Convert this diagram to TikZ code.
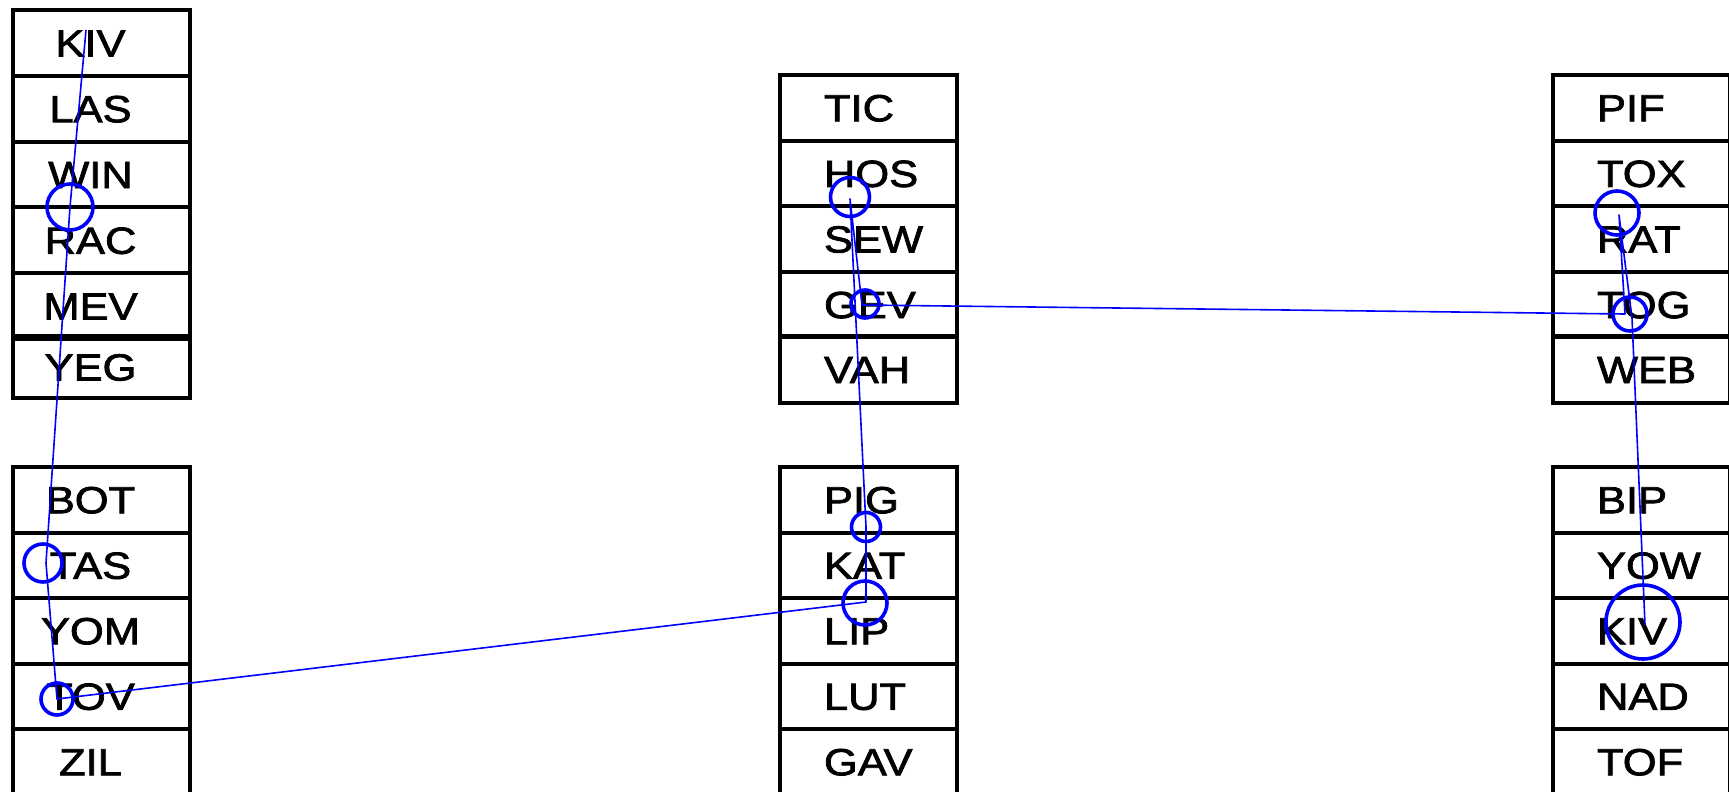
\documentclass[tikz,border=0pt]{standalone}
\usepackage{fontspec}
\setmainfont[FakeStretch=1.15,FakeBold=2]{Liberation Sans}
% left stacks: text centred a little left of the cell centre
\newcommand\insetA[1]{\makebox[88.5pt]{\hspace{-11pt}#1}}
% other stacks: text at a fixed inset from the left edge
\newcommand\insetB[1]{\makebox[88.5pt][l]{\hspace{22pt}#1}}
\begin{document}
\begin{tikzpicture}[x=0.5pt,y=-0.5pt,
  cell/.style={draw=black, line width=2pt, rectangle, inner sep=0pt, outer sep=0pt,
    minimum width=88.5pt, text height=13.5pt, text depth=0pt, anchor=north west,
    font=\fontsize{18.9}{20}\selectfont},
  rowA/.style={cell, minimum height=32.9pt},
  rowB/.style={cell, minimum height=32.75pt},
  rowC/.style={cell, minimum height=32.8pt},
  link/.style={draw=blue, line width=0.8pt, line join=round},
  ring/.style={circle, draw=blue, line width=1.8pt, inner sep=0pt, outer sep=0pt},
]
\useasboundingbox (0,0) rectangle (1729,792);
\clip (0,0) rectangle (1729,792);

% left column, upper stack
\node[rowA] (kivA) at (13,10)    {\insetA{KIV}};
\node[rowA] (las)  at (13,75.8)  {\insetA{LAS}};
\node[rowA] (win)  at (13,141.6) {\insetA{WIN}};
\node[rowA] (rac)  at (13,207.4) {\insetA{RAC}};
\node[rowA] (mev)  at (13,273.2) {\insetA{MEV}};
\node[cell, minimum height=31pt] (yeg) at (13,336) {\insetA{YEG}};
% left column, lower stack
\node[rowB] (bot) at (13,467)   {\insetA{BOT}};
\node[rowB] (tas) at (13,532.5) {\insetA{TAS}};
\node[rowB] (yom) at (13,598)   {\insetA{YOM}};
\node[rowB] (tov) at (13,663.5) {\insetA{TOV}};
\node[rowB] (zil) at (13,729)   {\insetA{ZIL}};

% middle column, upper stack
\node[rowC] (tic) at (780,75)    {\insetB{TIC}};
\node[rowC] (hos) at (780,140.6) {\insetB{HOS}};
\node[rowC] (sew) at (780,206.2) {\insetB{SEW}};
\node[rowC] (gev) at (780,271.8) {\insetB{GEV}};
\node[cell, minimum height=33.5pt] (vah) at (780,336) {\insetB{VAH}};
% middle column, lower stack
\node[rowB] (pig) at (780,467)   {\insetB{PIG}};
\node[rowB] (kat) at (780,532.5) {\insetB{KAT}};
\node[rowB] (lip) at (780,598)   {\insetB{LIP}};
\node[rowB] (lut) at (780,663.5) {\insetB{LUT}};
\node[rowB] (gav) at (780,729)   {\insetB{GAV}};

% right column, upper stack
\node[rowC] (pif) at (1553,75)    {\insetB{PIF}};
\node[rowC] (tox) at (1553,140.6) {\insetB{TOX}};
\node[rowC] (rat) at (1553,206.2) {\insetB{RAT}};
\node[rowC] (tog) at (1553,271.8) {\insetB{TOG}};
\node[cell, minimum height=33.5pt] (web) at (1553,336) {\insetB{WEB}};
% right column, lower stack
\node[rowB] (bip)  at (1553,467)   {\insetB{BIP}};
\node[rowB] (yow)  at (1553,532.5) {\insetB{YOW}};
\node[rowB] (kivB) at (1553,598)   {\insetB{KIV}};
\node[rowB] (nad)  at (1553,663.5) {\insetB{NAD}};
\node[rowB] (tof)  at (1553,729)   {\insetB{TOF}};

% trace points
\coordinate (p0) at (86,30);
\coordinate (p1) at (70,207);
\coordinate (p2) at (46,563);
\coordinate (p3) at (57,699);
\coordinate (p4) at (866,602);
\coordinate (p5) at (866,527);
\coordinate (p6) at (850,199);
\coordinate (p7) at (862,305);
\coordinate (p8) at (1625,314);
\coordinate (p9) at (1619,215);
\coordinate (p10) at (1632,318);
\coordinate (p11) at (1645,625);

% rings
\node[ring, minimum size=23pt] (r1) at (70,207) {};
\node[ring, minimum size=19pt] (r2) at (43,563) {};
\node[ring, minimum size=16pt] (r3) at (57,699) {};
\node[ring, minimum size=22pt] (r4) at (865,603) {};
\node[ring, minimum size=14.5pt] (r5) at (866,527) {};
\node[ring, minimum size=19.5pt] (r6) at (850,197) {};
\node[ring, minimum size=14pt] (r7) at (865,304) {};
\node[ring, minimum size=17pt] (r8) at (1630,314) {};
\node[ring, minimum size=22pt] (r9) at (1617,213) {};
\node[ring, minimum size=37pt] (r10) at (1643,622) {};

% trace
\draw[link] (p0) -- (p1) -- (p2) -- (p3) -- (p4) -- (p5) -- (p6) -- (p7)
  -- (p8) -- (p9) -- (p10) -- (p11);
\end{tikzpicture}
\end{document}
